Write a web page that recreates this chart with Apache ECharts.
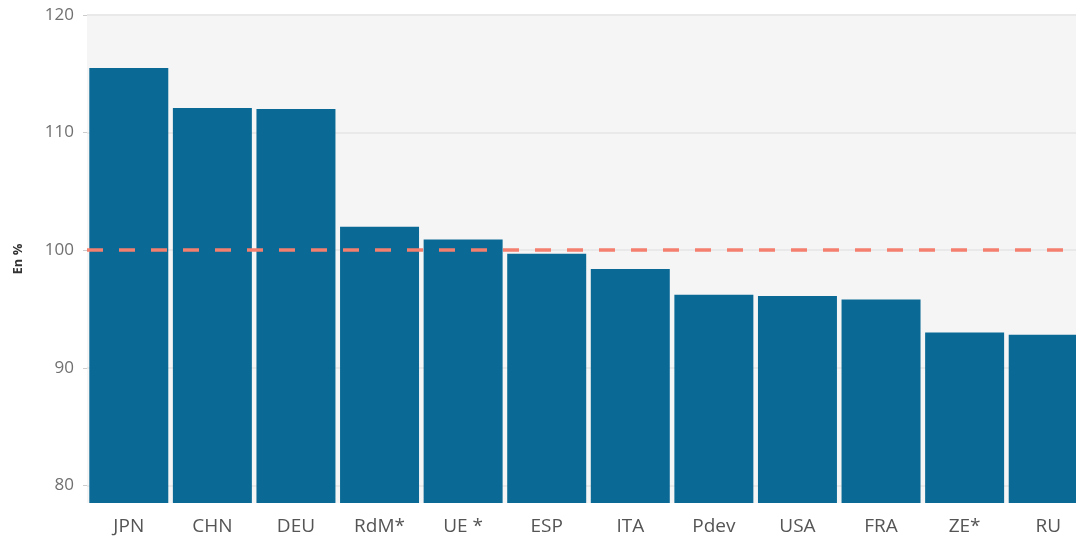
<!DOCTYPE html>
<html>
<head>
<meta charset="utf-8">
<script src="https://cdn.jsdelivr.net/npm/echarts@6/dist/echarts.min.js"></script>
<style>html,body{margin:0;padding:0;background:#fff}#c{width:1076px;height:542px}</style>
</head>
<body>
<div id="c"></div>
<script>
const categories = ['JPN','CHN','DEU','RdM*','UE *','ESP','ITA','Pdev','USA','FRA','ZE*','RU'];
const values = [115.5, 112.1, 112.0, 102.0, 100.9, 99.7, 98.4, 96.2, 96.1, 95.8, 93.0, 92.8];
const yTicks = [80, 90, 100, 110, 120];
const refLevel = 100;
const yName = 'En %';

const chart = echarts.init(document.getElementById('c'), null, {renderer: 'canvas'});
chart.setOption({
  animation: false,
  grid: {left: 87, top: 15, width: 1003, height: 488, show: true, backgroundColor: '#f5f5f5', borderWidth: 0, containLabel: false, outerBoundsMode: 'none'},
  xAxis: {
    type: 'category',
    data: categories,
    axisLine: {show: false},
    axisTick: {show: false},
    axisLabel: {color: '#555', fontSize: 19, fontFamily: 'Open Sans', margin: 14}
  },
  yAxis: {
    type: 'value',
    min: 78.5,
    max: 120,
    name: yName,
    nameLocation: 'middle',
    nameGap: 62,
    nameRotate: 90,
    nameMoveOverlap: false,
    nameTextStyle: {color: '#333', fontSize: 13, fontWeight: 'bold', fontFamily: 'Open Sans'},
    axisLine: {show: false},
    axisTick: {show: true, length: 4, lineStyle: {color: '#ccc'}, customValues: yTicks},
    axisLabel: {color: '#707070', fontSize: 17, fontFamily: 'Open Sans', margin: 13, customValues: yTicks},
    splitLine: {show: true, lineStyle: {color: '#e9e9e9', width: 2}}
  },
  series: [{
    type: 'bar',
    data: values,
    barCategoryGap: '5.5%',
    itemStyle: {color: '#0a6a95'},
    markLine: {
      silent: true,
      symbol: 'none',
      label: {show: false},
      lineStyle: {color: '#f47f6e', width: 3.5, type: [16, 16]},
      data: [{yAxis: refLevel}]
    }
  }]
});
</script>
</body>
</html>
